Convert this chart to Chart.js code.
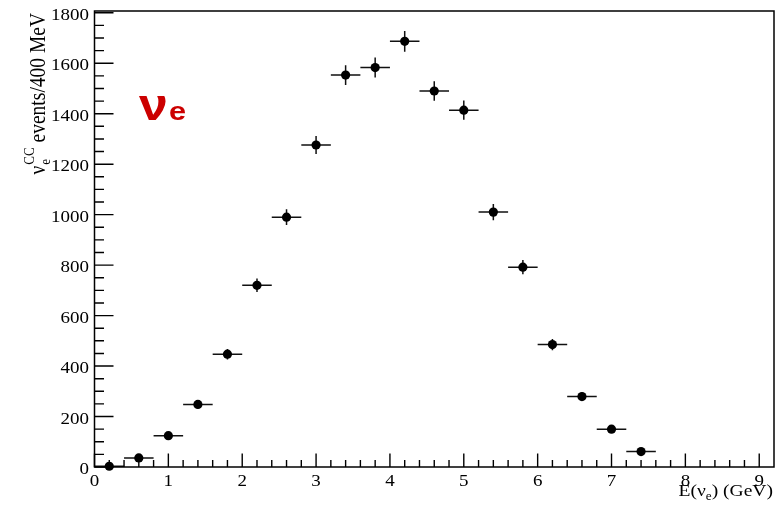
<!DOCTYPE html>
<html><head><meta charset="utf-8">
<script src="https://cdn.jsdelivr.net/npm/chart.js@4"></script>
<style>html,body{margin:0;padding:0;background:#fff}#wrap{width:780px;height:506px;position:relative}</style>
</head><body><div id="wrap"><canvas id="c"></canvas></div>
<script>
// ---- data ----
const binCenters = [0.2,0.6,1.0,1.4,1.8,2.2,2.6,3.0,3.4,3.8,4.2,4.6,5.0,5.4,5.8,6.2,6.6,7.0,7.4];
const events     = [3,36,124,248,447,720,990,1276,1553,1583,1687,1490,1414,1010,792,485,279,150,61];
const eventErrors= [2,6,11,16,21,27,31,36,39,40,41,39,38,32,28,22,17,12,8];
const binHalfWidth = 0.2;
const xTickLabels = [0,1,2,3,4,5,6,7,8,9];
const yTickLabels = [0,200,400,600,800,1000,1200,1400,1600,1800];
const xMinorStep = 0.2, yMinorStep = 50;

const SERIF = '"Liberation Serif","DejaVu Serif",serif';
const STRETCH = 1.15;

const points = binCenters.map((x,i)=>({x:x,y:events[i],e:eventErrors[i]}));

const errorBars = {
  id:'errorBars',
  beforeDatasetsDraw(chart){
    const {ctx,scales:{x,y}} = chart;
    ctx.save();
    ctx.strokeStyle='#111'; ctx.lineWidth=1.5;
    points.forEach(p=>{
      const px=x.getPixelForValue(p.x), py=y.getPixelForValue(p.y);
      const x0=x.getPixelForValue(p.x-binHalfWidth), x1=x.getPixelForValue(p.x+binHalfWidth);
      const y0=y.getPixelForValue(p.y-p.e), y1=y.getPixelForValue(p.y+p.e);
      ctx.beginPath();
      ctx.moveTo(x0,py); ctx.lineTo(x1,py);
      ctx.moveTo(px,y0); ctx.lineTo(px,y1);
      ctx.stroke();
    });
    ctx.restore();
  }
};

function stretchedText(ctx,text,x,y,align){
  ctx.save();
  ctx.translate(x,y);
  ctx.scale(STRETCH,1);
  ctx.textAlign=align;
  ctx.fillText(text,0,0);
  ctx.restore();
}

const frameAndTicks = {
  id:'frameAndTicks',
  afterDraw(chart){
    const {ctx,chartArea:a,scales:{x,y}} = chart;
    ctx.save();
    ctx.strokeStyle='#000'; ctx.lineWidth=1.5;
    ctx.strokeRect(a.left,a.top,a.right-a.left,a.bottom-a.top);
    ctx.lineWidth=1.4;
    ctx.beginPath();
    for(let v=0; v<=x.max+1e-9; v+=xMinorStep){
      const r=Math.round(v*1000)/1000;
      const major=Math.abs(r-Math.round(r))<1e-6;
      const px=x.getPixelForValue(r);
      if(px>a.right-1) continue;
      ctx.moveTo(px,a.bottom); ctx.lineTo(px,a.bottom-(major?13.5:7));
    }
    for(let v=0; v<=y.max+1e-9; v+=yMinorStep){
      const major=v%200===0;
      const py=y.getPixelForValue(v);
      ctx.moveTo(a.left,py); ctx.lineTo(a.left+(major?19:9.5),py);
    }
    ctx.stroke();
    // tick labels
    ctx.fillStyle='#000';
    ctx.font='16.5px '+SERIF;
    ctx.textBaseline='alphabetic';
    xTickLabels.forEach(v=>{
      stretchedText(ctx,String(v),x.getPixelForValue(v),486,'center');
    });
    yTickLabels.forEach(v=>{
      stretchedText(ctx,String(v),a.left-5.5,y.getPixelForValue(v)+7,'right');
    });
    // x title: E(νe) (GeV)
    ctx.save();
    ctx.translate(773,496);
    ctx.scale(STRETCH,1);
    ctx.textAlign='left';
    const f1='17px '+SERIF, f2='11.5px '+SERIF;
    const parts=[['E(ν',f1,0],['e',f2,4],[') (GeV)',f1,0]];
    let w=0; parts.forEach(p=>{ctx.font=p[1]; w+=ctx.measureText(p[0]).width;});
    let cx=-w;
    parts.forEach(p=>{ctx.font=p[1]; ctx.fillText(p[0],cx,p[2]); cx+=ctx.measureText(p[0]).width;});
    ctx.restore();
    // y title: ν_e^CC events/400 MeV (rotated)
    ctx.save();
    const g1='19.5px '+SERIF, g2='13px '+SERIF;
    ctx.font=g1; const wNu=ctx.measureText('ν').width;
    const wRest=ctx.measureText(' events/400 MeV').width;
    ctx.font=g2; const wCC=ctx.measureText('CC').width;
    const total=wNu+wCC+1+wRest;
    ctx.translate(45,13+total);
    ctx.rotate(-Math.PI/2);
    ctx.scale(1,STRETCH);
    ctx.textAlign='left';
    ctx.font=g1; ctx.fillText('ν',0,0);
    ctx.font=g2; ctx.fillText('CC',wNu+1,-10); ctx.fillText('e',wNu+1,4);
    ctx.font=g1; ctx.fillText(' events/400 MeV',wNu+wCC+1,0);
    ctx.restore();
    // red label νe
    ctx.fillStyle='#cc0000';
    ctx.textAlign='left';
    ctx.save();
    ctx.translate(139,120);
    ctx.scale(1.18,1);
    ctx.font='bold 44px "Liberation Sans",Arial,sans-serif';
    ctx.fillText('ν',0,0);
    const wn=ctx.measureText('ν').width;
    ctx.font='bold 26px "Liberation Sans",Arial,sans-serif';
    ctx.fillText('e',wn+1,0);
    ctx.restore();
    ctx.restore();
  }
};

new Chart(document.getElementById('c'),{
  type:'scatter',
  data:{datasets:[{
    data:points,
    backgroundColor:'#000',borderColor:'#000',
    pointRadius:4.6,pointHoverRadius:4.6,borderWidth:0,clip:false
  }]},
  options:{
    responsive:true,maintainAspectRatio:false,animation:false,
    layout:{padding:{top:11,right:6,left:0,bottom:0}},
    plugins:{legend:{display:false},tooltip:{enabled:false}},
    scales:{
      x:{type:'linear',min:0,max:9.2,
        grid:{display:false,drawTicks:false},border:{display:false},
        ticks:{display:false},
        afterFit(s){s.height=39;}},
      y:{type:'linear',min:0,max:1807,
        grid:{display:false,drawTicks:false},border:{display:false},
        ticks:{display:false},
        afterFit(s){s.width=94.5;}}
    }
  },
  plugins:[errorBars,frameAndTicks]
});
</script></body></html>
